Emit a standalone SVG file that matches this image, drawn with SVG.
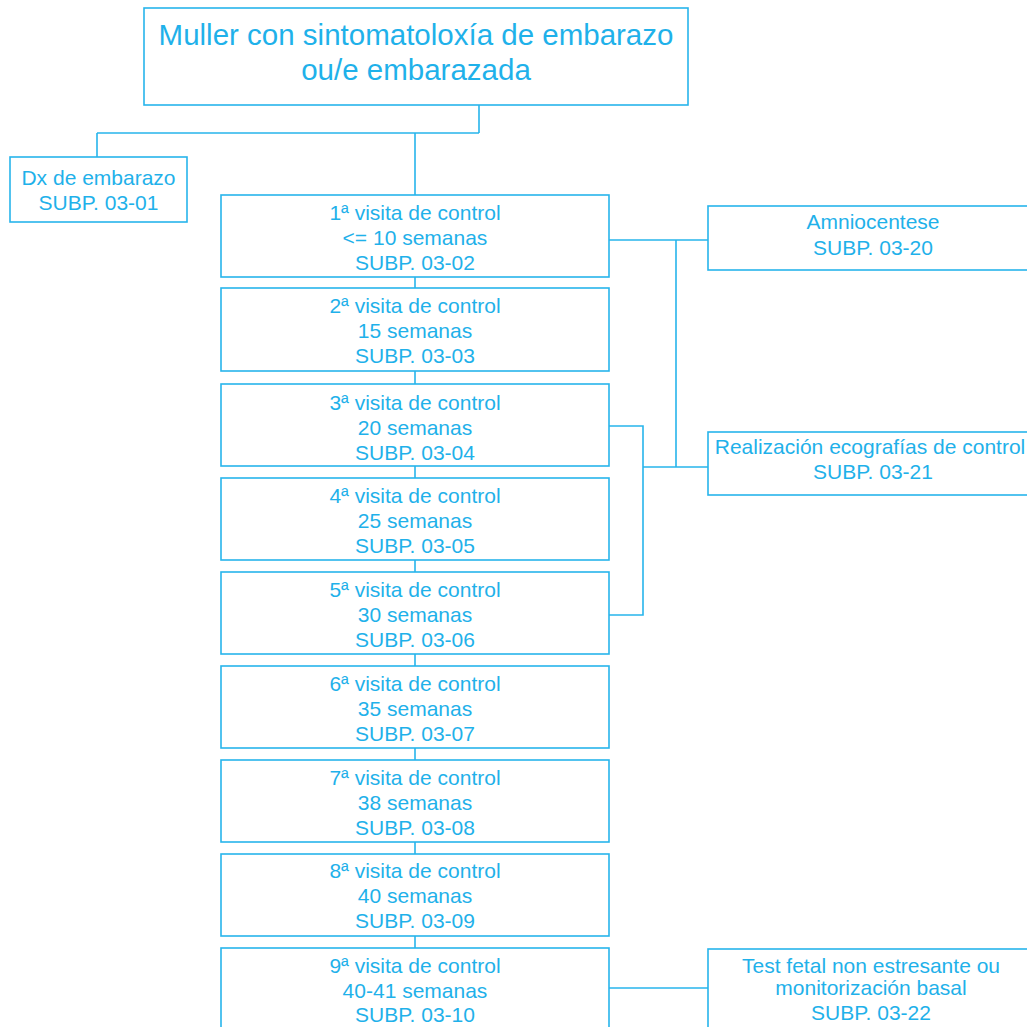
<svg xmlns="http://www.w3.org/2000/svg" width="1027" height="1027" viewBox="0 0 1027 1027">
<style>
.n rect{fill:#fff;stroke:#27b5ec;stroke-width:1.6}
.bg{fill:#fff;stroke:none}
.c path{fill:none;stroke:#27b5ec;stroke-width:1.6}
text{font-family:"Liberation Sans",Arial,sans-serif;font-size:21px;fill:#1fb1ea;text-anchor:middle}
.t{font-size:29.5px}
</style>
<rect class="bg" width="1027" height="1027"/>
<g class="c" id="connectors">
<path d="M479 105V133M97 133H479M97 133V157M415 133V195"/>
<path d="M415 277V288M415 370V384M415 466V478M415 560V572M415 654V666M415 748V760M415 842V854M415 936V948"/>
<path d="M609 240H708M676 240V467"/>
<path d="M609 426H643V615H609M643 467H708"/>
<path d="M609 988H708"/>
</g>
<g class="n" id="n0"><rect x="144" y="8" width="544" height="97"/><text class="t" x="416" y="45">Muller con sintomatoloxía de embarazo</text><text class="t" x="416" y="80">ou/e embarazada</text></g>
<g class="n" id="n1"><rect x="10" y="157" width="177" height="65"/><text x="98.5" y="184.5">Dx de embarazo</text><text x="98.5" y="209.5">SUBP. 03-01</text></g>
<g class="n" id="v1"><rect x="221" y="195" width="388" height="82"/><text x="415" y="219.5">1ª visita de control</text><text x="415" y="244.5">&lt;= 10 semanas</text><text x="415" y="269.5">SUBP. 03-02</text></g>
<g class="n" id="v2"><rect x="221" y="288" width="388" height="83"/><text x="415" y="312.5">2ª visita de control</text><text x="415" y="337.5">15 semanas</text><text x="415" y="362.5">SUBP. 03-03</text></g>
<g class="n" id="v3"><rect x="221" y="384" width="388" height="82"/><text x="415" y="410">3ª visita de control</text><text x="415" y="435">20 semanas</text><text x="415" y="460">SUBP. 03-04</text></g>
<g class="n" id="v4"><rect x="221" y="478" width="388" height="82"/><text x="415" y="503">4ª visita de control</text><text x="415" y="528">25 semanas</text><text x="415" y="553">SUBP. 03-05</text></g>
<g class="n" id="v5"><rect x="221" y="572" width="388" height="82"/><text x="415" y="597">5ª visita de control</text><text x="415" y="622">30 semanas</text><text x="415" y="647">SUBP. 03-06</text></g>
<g class="n" id="v6"><rect x="221" y="666" width="388" height="82"/><text x="415" y="690.5">6ª visita de control</text><text x="415" y="715.5">35 semanas</text><text x="415" y="740.5">SUBP. 03-07</text></g>
<g class="n" id="v7"><rect x="221" y="760" width="388" height="82"/><text x="415" y="784.5">7ª visita de control</text><text x="415" y="809.5">38 semanas</text><text x="415" y="834.5">SUBP. 03-08</text></g>
<g class="n" id="v8"><rect x="221" y="854" width="388" height="82"/><text x="415" y="877.5">8ª visita de control</text><text x="415" y="902.5">40 semanas</text><text x="415" y="927.5">SUBP. 03-09</text></g>
<g class="n" id="v9"><rect x="221" y="948" width="388" height="90"/><text x="415" y="972.5">9ª visita de control</text><text x="415" y="997.5">40-41 semanas</text><text x="415" y="1022">SUBP. 03-10</text></g>
<g class="n" id="r1"><rect x="708" y="206" width="332" height="64"/><text x="873" y="228.5">Amniocentese</text><text x="873" y="254.5">SUBP. 03-20</text></g>
<g class="n" id="r2"><rect x="708" y="432" width="332" height="63"/><text x="870" y="453.5">Realización ecografías de control</text><text x="873" y="478.5">SUBP. 03-21</text></g>
<g class="n" id="r3"><rect x="708" y="949" width="332" height="90"/><text x="871" y="972.5">Test fetal non estresante ou</text><text x="871" y="995">monitorización basal</text><text x="871" y="1019.5">SUBP. 03-22</text></g>
</svg>
